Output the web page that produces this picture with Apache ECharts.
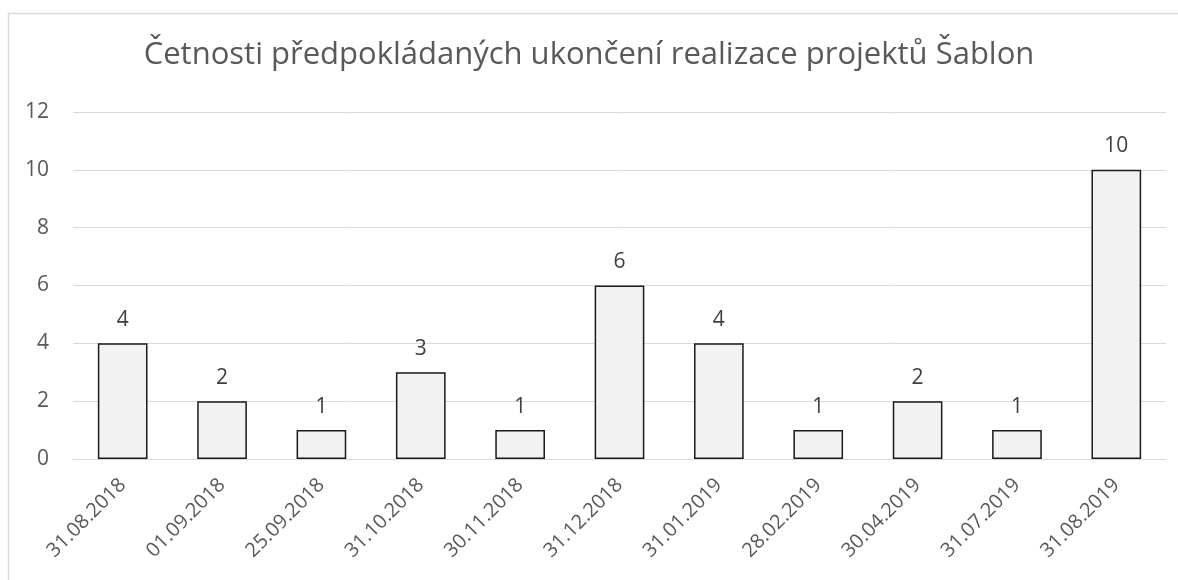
<!DOCTYPE html>
<html>
<head>
<meta charset="utf-8">
<script src="https://cdn.jsdelivr.net/npm/echarts@6/dist/echarts.min.js"></script>
<style>
    html, body {margin: 0; padding: 0; background: #fff;}
    #main {width: 1178px; height: 580px;}
</style>
</head>
<body>
<div id="main"></div>
<script>
const categories = ['31.08.2018', '01.09.2018', '25.09.2018', '31.10.2018', '30.11.2018', '31.12.2018',
    '31.01.2019', '28.02.2019', '30.04.2019', '31.07.2019', '31.08.2019'];
const counts = [4, 2, 1, 3, 1, 6, 4, 1, 2, 1, 10];
const yTicks = [0, 2, 4, 6, 8, 10, 12];

const textColor = '#595959';
const fontFamily = '"Open Sans", "Noto Sans", sans-serif';

var myChart = echarts.init(document.getElementById('main'));

var option = {
    animation: false,
    title: {
        text: 'Četnosti předpokládaných ukončení realizace projektů Šablon',
        left: 'center',
        top: 35,
        textStyle: {
            color: textColor,
            fontSize: 31,
            fontWeight: 'normal',
            fontFamily: fontFamily,
        },
    },
    graphic: [
        {
            type: 'polyline',
            shape: {points: [[8.5, 580], [8.5, 13.5], [1178, 13.5]]},
            style: {stroke: '#d9d9d9', lineWidth: 1.5, fill: null},
        },
    ],
    grid: {left: 73, right: 12, top: 112, bottom: 121},
    xAxis: {
        type: 'category',
        data: categories,
        axisLine: {lineStyle: {color: '#d9d9d9', width: 1}},
        axisTick: {show: false},
        axisLabel: {
            rotate: 45,
            color: textColor,
            fontSize: 20,
            fontFamily: fontFamily,
            margin: 23,
            interval: 0,
        },
    },
    yAxis: {
        type: 'value',
        min: yTicks[0],
        max: yTicks[yTicks.length - 1],
        interval: 2,
        axisLine: {show: false},
        axisTick: {show: false},
        splitLine: {lineStyle: {color: '#d9d9d9', width: 1}},
        axisLabel: {
            color: textColor,
            fontSize: 21,
            fontFamily: fontFamily,
            margin: 24,
        },
    },
    series: [
        {
            type: 'bar',
            data: counts,
            barWidth: '50%',
            itemStyle: {color: '#f2f2f2', borderColor: '#1a1a1a', borderWidth: 1.5},
            label: {
                show: true,
                position: 'top',
                distance: 13,
                color: '#404040',
                fontSize: 21,
                fontFamily: fontFamily,
            },
        },
    ],
};

myChart.setOption(option);
</script>
</body>
</html>
